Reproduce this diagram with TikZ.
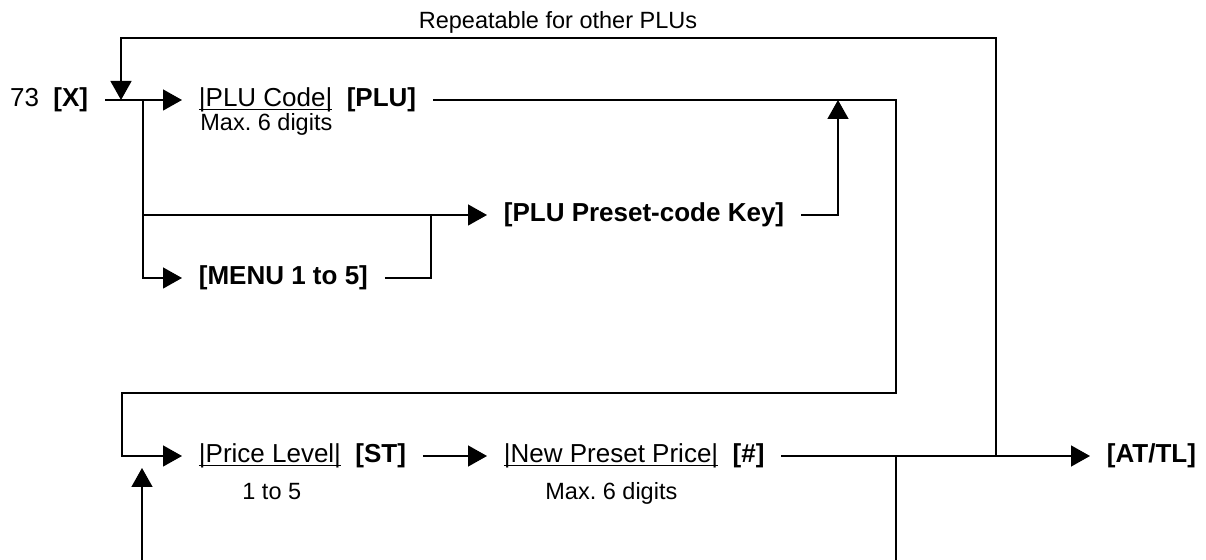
\documentclass[tikz,border=0pt]{standalone}
\usepackage{fontspec}
\setmainfont{Liberation Sans}
\usetikzlibrary{arrows.meta}
\frenchspacing

\newcommand{\fieldname}[1]{\underline{\smash{|#1|}}}

\tikzset{
  wire/.style={line width=0.7pt},
  flow/.style={wire,-{Triangle[length=9.5pt,width=10.5pt]}},
  key/.style={inner xsep=8.25pt,inner ysep=0pt,text height=0.9em,text depth=0.2em,
    font=\fontsize{13}{15}\selectfont},
  note/.style={inner sep=0pt,anchor=base west,font=\fontsize{11.75}{14}\selectfont}
}

\begin{document}
\begin{tikzpicture}[x=0.5pt,y=-0.5pt]
  \useasboundingbox (0,0) rectangle (1206,560);
  \coordinate (ltop) at (121,38);
  \coordinate (rtop) at (996,38);
  \coordinate (merge) at (121,100);
  \coordinate (fork) at (143,100);
  \coordinate (mj) at (431,215);
  \coordinate (pj) at (838,100);
  \coordinate (rc) at (896,100);
  \coordinate (rl) at (896,393);
  \coordinate (ll) at (122,393);
  \coordinate (bj) at (996,456);
  \coordinate (outT) at (896,456);
  \coordinate (outB) at (896,560);
  \coordinate (inB) at (142,560);
  \coordinate (inT) at (142,468);
  \node[key,anchor=east] (x) at (105,100) {73\ \ \textbf{[X]}};
  \node[key,anchor=west] (plu) at (182,100) {\fieldname{PLU Code}\ \ \textbf{[PLU]}};
  \node[note] (pluNote) at (200,131) {Max. 6 digits};
  \node[key,anchor=west] (preset) at (487,215) {\textbf{[PLU Preset-code Key]}};
  \node[key,anchor=west] (menu) at (182,278) {\textbf{[MENU 1 to 5]}};
  \node[key,anchor=west] (level) at (182,456) {\fieldname{Price Level}\ \ \textbf{[ST]}};
  \node[note] (levelNote) at (242,500) {1 to 5};
  \node[key,anchor=west] (price) at (487,456) {\fieldname{New Preset Price}\ \ \textbf{[\#]}};
  \node[note] (priceNote) at (545,500) {Max. 6 digits};
  \node[key,anchor=west] (attl) at (1090,456) {\textbf{[AT/TL]}};
  \node[font=\fontsize{11.75}{14}\selectfont] (repeat) at (558,22) {Repeatable for other PLUs};
  \draw[flow] (x.east) -- (plu.west);
  \draw[flow] (bj) -- (rtop) -- (ltop) -- (merge);
  \draw[flow] (fork) |- (preset.west);
  \draw[flow] (fork) |- (menu.west);
  \draw[wire] (menu.east) -| (mj);
  \draw[flow] (preset.east) -| (pj);
  \draw[flow] (plu.east) -- (rc) -- (rl) -- (ll) |- (level.west);
  \draw[flow] (level.east) -- (price.west);
  \draw[flow] (price.east) -- (attl.west);
  \draw[wire] (outT) -- (outB);
  \draw[flow] (inB) -- (inT);
\end{tikzpicture}
\end{document}
